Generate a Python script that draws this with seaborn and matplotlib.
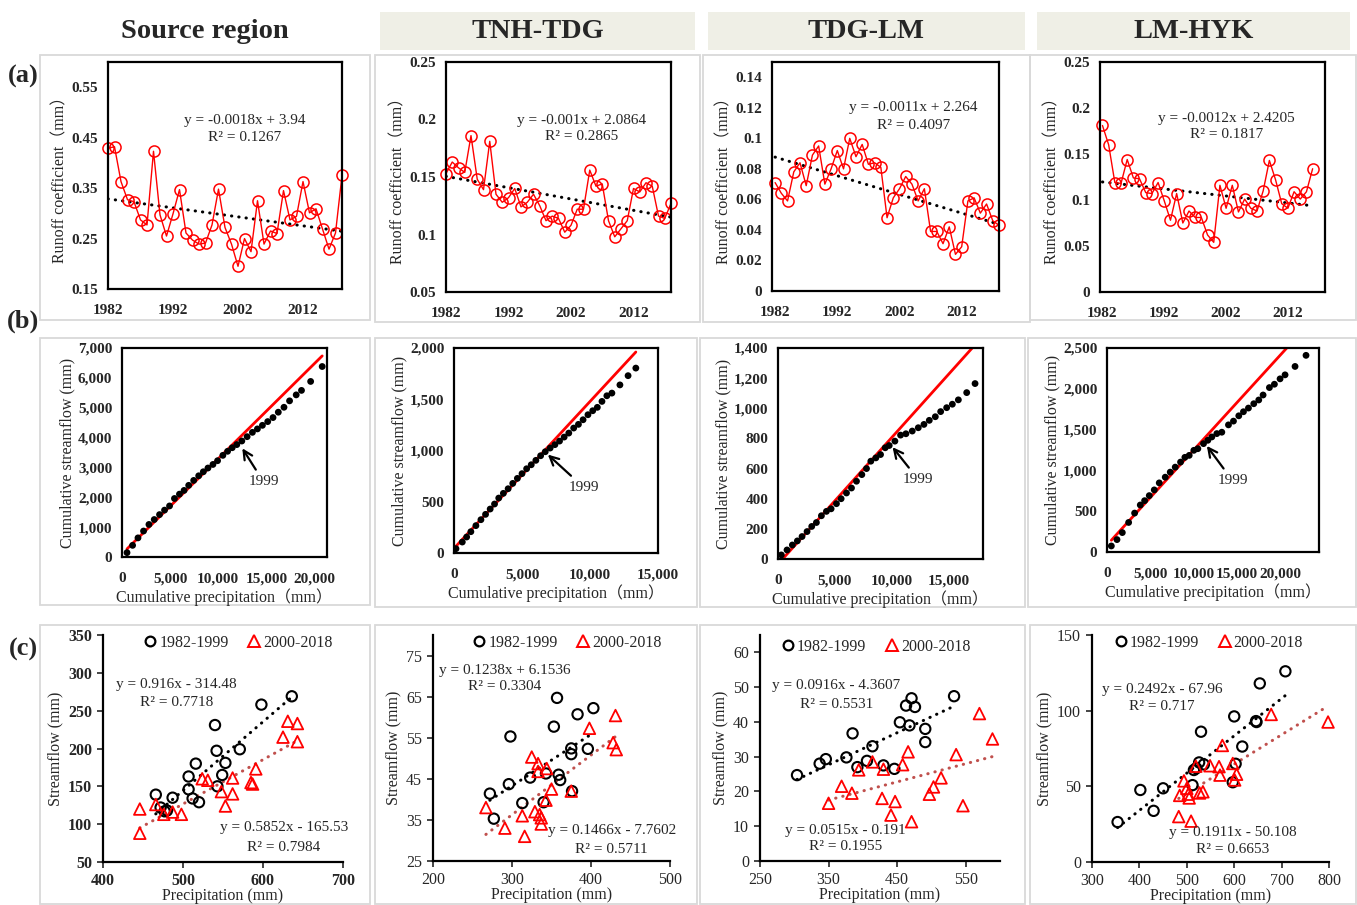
"""
Runoff coefficient, double mass curves and precipitation-streamflow
relations for four reaches of the Yellow River (recreated figure).
"""

import matplotlib
matplotlib.use("Agg")  # headless
import matplotlib.pyplot as plt
from matplotlib.lines import Line2D
from matplotlib.patches import Rectangle
from matplotlib.ticker import FuncFormatter
import numpy as np
import pandas as pd
import seaborn as sns

W, H = 1357, 905

REGIONS = ["Source region", "TNH-TDG", "TDG-LM", "LM-HYK"]
YEARS = list(range(1982, 2019))

# ---- row (a): annual runoff coefficient -------------------------------------
RC_SOURCE = [0.429, 0.432, 0.363, 0.327, 0.323, 0.287, 0.277, 0.423, 0.297, 0.255,
             0.299, 0.347, 0.261, 0.247, 0.239, 0.241, 0.277, 0.348, 0.272, 0.239,
             0.195, 0.250, 0.224, 0.325, 0.239, 0.265, 0.260, 0.345, 0.287, 0.294,
             0.363, 0.301, 0.309, 0.269, 0.229, 0.261, 0.375]
RC_TNH_TDG = [0.153, 0.163, 0.158, 0.154, 0.186, 0.148, 0.139, 0.181, 0.135, 0.128,
              0.132, 0.140, 0.124, 0.128, 0.135, 0.125, 0.112, 0.116, 0.114, 0.102,
              0.108, 0.122, 0.122, 0.156, 0.142, 0.144, 0.112, 0.098, 0.105, 0.112,
              0.140, 0.137, 0.145, 0.142, 0.116, 0.114, 0.127]
RC_TDG_LM = [0.071, 0.064, 0.059, 0.078, 0.084, 0.069, 0.089, 0.095, 0.070, 0.080,
             0.092, 0.080, 0.100, 0.088, 0.096, 0.083, 0.084, 0.081, 0.048, 0.061,
             0.067, 0.075, 0.070, 0.059, 0.067, 0.039, 0.039, 0.031, 0.042, 0.024,
             0.029, 0.059, 0.061, 0.051, 0.057, 0.046, 0.043]
RC_LM_HYK = [0.181, 0.160, 0.119, 0.118, 0.144, 0.124, 0.123, 0.108, 0.107, 0.119,
             0.099, 0.078, 0.107, 0.075, 0.088, 0.081, 0.081, 0.062, 0.054, 0.116,
             0.091, 0.116, 0.087, 0.101, 0.091, 0.088, 0.110, 0.143, 0.122, 0.096,
             0.091, 0.109, 0.101, 0.109, 0.134]
RC_EQ = ["y = -0.0018x + 3.94", "y = -0.001x + 2.0864",
         "y = -0.0011x + 2.264", "y = -0.0012x + 2.4205"]
RC_R2 = ["R² = 0.1267", "R² = 0.2865", "R² = 0.4097", "R² = 0.1817"]

# ---- row (b): double mass curves (cumulative, mm) ---------------------------
CP_SOURCE = [520, 1100, 1660, 2240, 2800, 3350, 3900, 4420, 4940, 5450, 5970, 6450,
             6930, 7450, 7970, 8450, 8930, 9450, 9930, 10480, 10970, 11450, 11930,
             12450, 13000, 13550, 14070, 14590, 15140, 15690, 16240, 16830, 17410,
             18100, 18650, 19600, 20800]
CQ_SOURCE = [146, 390, 640, 870, 1090, 1255, 1420, 1570, 1710, 1960, 2105, 2230,
             2400, 2565, 2720, 2855, 2980, 3100, 3225, 3405, 3540, 3660, 3765, 3885,
             4030, 4175, 4290, 4410, 4535, 4670, 4850, 5015, 5230, 5430, 5580, 5880,
             6380]
CP_TNH_TDG = [146, 610, 930, 1240, 1610, 1980, 2320, 2660, 2980, 3290, 3630, 3980,
              4320, 4660, 5000, 5340, 5680, 6020, 6370, 6710, 7070, 7420, 7760, 8100,
              8440, 8800, 9150, 9490, 9850, 10200, 10540, 10880, 11240, 11610, 12200,
              12800, 13370]
CQ_TNH_TDG = [42, 107, 156, 208, 267, 325, 377, 429, 478, 536, 582, 627, 679, 728,
              774, 822, 861, 904, 949, 988, 1024, 1057, 1092, 1131, 1170, 1219, 1255,
              1300, 1349, 1388, 1421, 1479, 1534, 1560, 1640, 1730, 1804]
CP_TDG_LM = [293, 792, 1261, 1701, 2111, 2551, 2962, 3372, 3812, 4252, 4663, 5132,
             5543, 6012, 6452, 6891, 7361, 7771, 8152, 8592, 9003, 9413, 9765, 10264,
             10762, 11232, 11789, 12317, 12815, 13284, 13812, 14282, 14809, 15308,
             15836, 16569, 17302]
CQ_TDG_LM = [27, 60, 93, 120, 149, 182, 216, 242, 287, 316, 333, 367, 400, 438, 471,
             516, 560, 600, 649, 671, 693, 738, 753, 782, 822, 831, 849, 871, 893, 920,
             944, 978, 1004, 1027, 1056, 1104, 1164]
CP_LM_HYK = [500, 1154, 1769, 2500, 3192, 3846, 4346, 4885, 5462, 6038, 6731, 7308,
             7885, 8500, 9000, 9500, 10038, 10500, 11154, 11654, 12115, 12692, 13269,
             14038, 14615, 15231, 15769, 16346, 16962, 17538, 18038, 18769, 19346,
             20000, 20577, 21731, 23000]
CQ_LM_HYK = [74, 152, 238, 362, 477, 576, 629, 691, 761, 847, 917, 979, 1040, 1102,
             1160, 1184, 1246, 1266, 1328, 1369, 1410, 1451, 1468, 1558, 1604, 1669,
             1719, 1764, 1817, 1863, 1924, 2015, 2056, 2122, 2171, 2274, 2410]
# reference (pre-1999) line: slope, intercept
B_LINE_SLOPE = [0.3188, 0.1433, 0.0841, 0.1162]
B_LINE_INTERCEPT = [104, 45, -34, 86]
BREAK_YEAR = 1999
ARROW_TIP = [(12500, 3640), (6900, 960), (10060, 742), (11540, 1300)]
ARROW_TEXT = [(14700, 2520), (9540, 640), (12320, 527), (14500, 876)]

# ---- row (c): annual precipitation vs streamflow ----------------------------
P_EARLY_SOURCE = [466, 472, 477, 480, 487, 507, 507, 512, 516, 520, 540, 542, 543, 549, 553, 571, 598, 636]
Q_EARLY_SOURCE = [139, 122, 117, 118, 135, 163, 146, 134, 180, 129, 231, 197, 150, 165, 181, 199, 258, 269]
P_LATE_SOURCE = [446, 446, 466, 476, 487, 498, 524, 531, 548, 553, 562, 562, 585, 587, 591, 625, 631, 643, 643]
Q_LATE_SOURCE = [120, 88, 126, 113, 116, 113, 160, 158, 143, 124, 161, 140, 155, 153, 173, 215, 236, 233, 209]

P_EARLY_TNH = [272, 277, 298, 296, 313, 323, 340, 343, 353, 357, 359, 361, 375, 375, 376, 383, 396, 403]
Q_EARLY_TNH = [41.4, 35.3, 55.3, 43.7, 39.1, 45.3, 39.3, 46.3, 57.7, 64.7, 46.0, 44.7, 52.4, 51.0, 42.0, 60.7, 52.3, 62.2]
P_LATE_TNH = [267, 291, 313, 316, 325, 329, 333, 333, 335, 337, 337, 344, 343, 350, 375, 398, 428, 431, 432]
Q_LATE_TNH = [38.0, 33.0, 36.0, 31.0, 50.3, 37.0, 48.7, 46.8, 36.3, 35.5, 34.0, 47.5, 39.8, 42.5, 42.0, 57.3, 53.8, 60.4, 52.1]

P_EARLY_TDG = [304, 337, 346, 376, 385, 392, 406, 414, 430, 446, 454, 463, 468, 471, 476, 491, 491, 533]
Q_EARLY_TDG = [24.7, 28.0, 29.3, 29.8, 36.7, 27.0, 28.8, 33.0, 27.5, 26.5, 39.9, 44.7, 39.0, 46.8, 44.3, 38.0, 34.2, 47.4]
P_LATE_TDG = [350, 369, 384, 394, 414, 428, 430, 441, 447, 458, 466, 471, 497, 503, 514, 536, 546, 570, 589]
Q_LATE_TDG = [16.6, 21.5, 19.5, 26.2, 28.5, 18.0, 26.4, 13.2, 17.1, 27.7, 31.4, 11.3, 19.2, 21.3, 23.9, 30.6, 15.9, 42.4, 35.1]

P_EARLY_LM = [354, 402, 430, 450, 512, 515, 520, 526, 530, 536, 597, 600, 603, 617, 646, 647, 654, 708]
Q_EARLY_LM = [26.4, 47.6, 33.8, 48.7, 50.8, 60.8, 62.0, 65.8, 86.1, 64.5, 52.7, 96.2, 64.9, 76.3, 93.1, 92.5, 118.0, 126.0]
P_LATE_LM = [483, 485, 494, 500, 503, 505, 509, 519, 527, 534, 549, 568, 570, 575, 597, 601, 605, 678, 798]
Q_LATE_LM = [30.0, 44.0, 53.6, 48.7, 44.8, 42.3, 27.0, 63.3, 45.6, 46.4, 63.6, 63.0, 57.4, 77.0, 65.1, 54.2, 58.0, 97.5, 92.5]

SC_EQ_EARLY = ["y = 0.916x - 314.48", "y = 0.1238x + 6.1536", "y = 0.0916x - 4.3607", "y = 0.2492x - 67.96"]
SC_R2_EARLY = ["R² = 0.7718", "R² = 0.3304", "R² = 0.5531", "R² = 0.717"]
SC_EQ_LATE = ["y = 0.5852x - 165.53", "y = 0.1466x - 7.7602", "y = 0.0515x - 0.191", "y = 0.1911x - 50.108"]
SC_R2_LATE = ["R² = 0.7984", "R² = 0.5711", "R² = 0.1955", "R² = 0.6653"]
PERIODS = ["1982-1999", "2000-2018"]

# ---- layout (pixel boxes: left, top, right, bottom) -------------------------
HEADER_BOXES = [(40, 12, 370, 50), (380, 12, 695, 50), (708, 12, 1025, 50), (1037, 12, 1350, 50)]
FRAMES = [
    [(40, 55, 370, 320), (375, 55, 700, 322), (703, 55, 1030, 322), (1030, 55, 1356, 320)],
    [(40, 338, 370, 605), (375, 338, 697, 607), (700, 338, 1025, 607), (1028, 338, 1356, 607)],
    [(40, 625, 370, 904), (375, 625, 697, 904), (700, 625, 1025, 904), (1030, 625, 1356, 904)],
]
AX_A = [(108, 62, 342, 289), (446, 62, 671, 292), (772, 62, 999, 291), (1100, 62, 1325, 292)]
AX_B = [(122, 348, 327, 557), (454, 348, 658, 553), (778, 348, 983, 559), (1107, 348, 1319, 552)]
AX_C = [(103, 635, 343, 862), (433, 635, 670, 861), (760, 635, 1000, 861), (1092, 635, 1329, 862)]

A_XLIM = [(1982, 2018), (1982, 2018), (1981.5, 2018), (1981.6, 2018)]
A_YLIM = [(0.15, 0.6), (0.05, 0.25), (0, 0.15), (0, 0.25)]
A_YTICKS = [[0.15, 0.25, 0.35, 0.45, 0.55], [0.05, 0.1, 0.15, 0.2, 0.25],
            [0, 0.02, 0.04, 0.06, 0.08, 0.1, 0.12, 0.14], [0, 0.05, 0.1, 0.15, 0.2, 0.25]]
A_EQ_POS = [(0.584, 0.741, 0.666), (0.604, 0.746, 0.674), (0.623, 0.803, 0.723), (0.563, 0.756, 0.683)]

B_XLIM = [21300, 15000, 18000, 24500]
B_XTICKS = [[0, 5000, 10000, 15000, 20000], [0, 5000, 10000, 15000],
            [0, 5000, 10000, 15000], [0, 5000, 10000, 15000, 20000]]
B_YLIM = [7000, 2000, 1400, 2500]
B_YSTEP = [1000, 500, 200, 500]

C_XLIM = [(400, 700), (200, 500), (250, 600), (300, 800)]
C_XTICKS = [[400, 500, 600, 700], [200, 300, 400, 500], [250, 350, 450, 550],
            [300, 400, 500, 600, 700, 800]]
C_YLIM = [(50, 350), (25, 80), (0, 65), (0, 150)]
C_YTICKS = [list(range(50, 351, 50)), [25, 35, 45, 55, 65, 75], list(range(0, 61, 10)), [0, 50, 100, 150]]
C_EARLY_POS = [(0.305, 0.784, 0.702), (0.303, 0.845, 0.771), (0.319, 0.776, 0.693), (0.295, 0.761, 0.685)]
C_LATE_POS = [(0.753, 0.150, 0.066), (0.754, 0.134, 0.052), (0.357, 0.137, 0.063), (0.593, 0.132, 0.054)]
C_LEGEND_POS = [(0.56, 0.966), (0.563, 0.966), (0.48, 0.948), (0.49, 0.966)]

LATE_COLOR = "#c0504d"
LABEL_SIZE = 11.5

sns.set_style("white")
plt.rcParams["font.family"] = ["Liberation Serif", "Noto Sans CJK SC"]
plt.rcParams["axes.linewidth"] = 1.6

fig = plt.figure(figsize=(W / 100, H / 100), dpi=100)


def add_axes_px(box):
    l, t, r, b = box
    return fig.add_axes([l / W, 1 - b / H, (r - l) / W, (b - t) / H])


def add_rect_px(box, fc="none", ec="#d9d9d9", lw=1.3):
    l, t, r, b = box
    fig.add_artist(Rectangle((l / W, 1 - b / H), (r - l) / W, (b - t) / H,
                             transform=fig.transFigure, fc=fc, ec=ec, lw=lw, zorder=0))


def fig_text_px(x, y, s, **kw):
    fig.text(x / W, 1 - y / H, s, **kw)


dotted = dict(ls=(0, (0.1, 2.3)), dash_capstyle="round", lw=2.2)

# headers, frames, row labels
for i, (box, name) in enumerate(zip(HEADER_BOXES, REGIONS)):
    add_rect_px(box, fc="white" if i == 0 else "#efefe6", ec="none")
    l, t, r, b = box
    fig_text_px((l + r) / 2, (t + b) / 2 + 1, name, ha="center", va="center",
                fontsize=20.5, fontweight="bold")
for row in FRAMES:
    for box in row:
        add_rect_px(box)
for lab, y in zip(["(a)", "(b)", "(c)"], [76, 321, 649]):
    fig_text_px(23, y, lab, ha="center", va="center", fontsize=19, fontweight="bold")

g = lambda v, _: f"{v:g}"
thousands = lambda v, _: f"{v:,.0f}"

# ---- row (a) ----
rc_all = [RC_SOURCE, RC_TNH_TDG, RC_TDG_LM, RC_LM_HYK]
for i, rc in enumerate(rc_all):
    ax = add_axes_px(AX_A[i])
    df = pd.DataFrame({"year": YEARS[:len(rc)], "rc": rc})
    sns.regplot(data=df, x="year", y="rc", ax=ax, scatter=False, ci=None,
                line_kws=dict(color="black", **dotted))
    sns.lineplot(data=df, x="year", y="rc", ax=ax, color="red", lw=1.0, marker="o",
                 markersize=8, markerfacecolor="none", markeredgecolor="red",
                 markeredgewidth=1.1, clip_on=False)
    ax.set_xlim(A_XLIM[i])
    ax.set_ylim(A_YLIM[i])
    ax.set_xticks([1982, 1992, 2002, 2012])
    ax.set_yticks(A_YTICKS[i])
    ax.yaxis.set_major_formatter(FuncFormatter(g))
    ax.tick_params(labelsize=11, direction="out", length=3, width=1.2, pad=4)
    ax.tick_params(axis="x", pad=8)
    for t in ax.get_xticklabels() + ax.get_yticklabels():
        t.set_fontweight("bold")
    ax.set_xlabel("")
    ax.set_ylabel("Runoff coefficient（mm）", fontsize=LABEL_SIZE, labelpad=2)
    for s in ax.spines.values():
        s.set_color("black")
    ex, ey, ry = A_EQ_POS[i]
    ax.text(ex, ey, RC_EQ[i], transform=ax.transAxes, ha="center", va="center", fontsize=11)
    ax.text(ex, ry, RC_R2[i], transform=ax.transAxes, ha="center", va="center", fontsize=11)

# ---- row (b) ----
cp_all = [CP_SOURCE, CP_TNH_TDG, CP_TDG_LM, CP_LM_HYK]
cq_all = [CQ_SOURCE, CQ_TNH_TDG, CQ_TDG_LM, CQ_LM_HYK]
for i in range(4):
    ax = add_axes_px(AX_B[i])
    cp = np.array(cp_all[i], dtype=float)
    cq = np.array(cq_all[i], dtype=float)
    ends = np.array([cp[0], cp[-1]])
    sns.lineplot(x=ends, y=B_LINE_SLOPE[i] * ends + B_LINE_INTERCEPT[i], ax=ax,
                 color="red", lw=2.0)
    sns.scatterplot(x=cp, y=cq, ax=ax, color="black", s=24, edgecolor="none", zorder=3)
    ax.set_xlim(0, B_XLIM[i])
    ax.set_ylim(0, B_YLIM[i])
    ax.set_xticks(B_XTICKS[i])
    ax.set_yticks(np.arange(0, B_YLIM[i] + 1, B_YSTEP[i]))
    ax.xaxis.set_major_formatter(FuncFormatter(thousands))
    ax.yaxis.set_major_formatter(FuncFormatter(thousands))
    ax.tick_params(labelsize=11, length=0, pad=7)
    ax.tick_params(axis="x", pad=11)
    for t in ax.get_xticklabels() + ax.get_yticklabels():
        t.set_fontweight("bold")
    ax.set_xlabel("Cumulative precipitation（mm）", fontsize=LABEL_SIZE, labelpad=2)
    ax.set_ylabel("Cumulative streamflow (mm)", fontsize=LABEL_SIZE, labelpad=2)
    for s in ax.spines.values():
        s.set_color("black")
    ax.annotate(str(BREAK_YEAR), xy=ARROW_TIP[i], xytext=ARROW_TEXT[i],
                ha="center", va="center", fontsize=11,
                arrowprops=dict(arrowstyle="->", color="black", lw=1.6,
                                mutation_scale=16, shrinkA=2, shrinkB=0))

# ---- row (c) ----
early = [(P_EARLY_SOURCE, Q_EARLY_SOURCE), (P_EARLY_TNH, Q_EARLY_TNH),
         (P_EARLY_TDG, Q_EARLY_TDG), (P_EARLY_LM, Q_EARLY_LM)]
late = [(P_LATE_SOURCE, Q_LATE_SOURCE), (P_LATE_TNH, Q_LATE_TNH),
        (P_LATE_TDG, Q_LATE_TDG), (P_LATE_LM, Q_LATE_LM)]
handles = [
    Line2D([], [], ls="", marker="o", ms=7, mfc="none", mec="black", mew=1.6),
    Line2D([], [], ls="", marker="^", ms=8, mfc="none", mec="red", mew=1.4),
]
for i in range(4):
    ax = add_axes_px(AX_C[i])
    pe, qe = early[i]
    pl, ql = late[i]
    sns.regplot(x=pe, y=qe, ax=ax, scatter=False, ci=None,
                line_kws=dict(color="black", **dotted))
    sns.regplot(x=pl, y=ql, ax=ax, scatter=False, ci=None,
                line_kws=dict(color=LATE_COLOR, **dotted))
    sns.scatterplot(x=pe, y=qe, ax=ax, marker="o", s=55, fc="none", ec="black",
                    linewidth=1.5, zorder=3, clip_on=False)
    sns.scatterplot(x=pl, y=ql, ax=ax, marker="^", s=70, fc="none", ec="red",
                    linewidth=1.3, zorder=3, clip_on=False)
    ax.set_xlim(C_XLIM[i])
    ax.set_ylim(C_YLIM[i])
    ax.set_xticks(C_XTICKS[i])
    ax.set_yticks(C_YTICKS[i])
    sns.despine(ax=ax)
    for s in ["left", "bottom"]:
        ax.spines[s].set_color("black")
    ax.tick_params(labelsize=11.5, direction="out", length=4, width=1.2, pad=4,
                   bottom=True, left=True)
    if i == 0:
        for t in ax.get_xticklabels() + ax.get_yticklabels():
            t.set_fontweight("bold")
    ax.set_xlabel("Precipitation (mm)", fontsize=LABEL_SIZE, labelpad=-1)
    ax.set_ylabel("Streamflow (mm)", fontsize=LABEL_SIZE, labelpad=3)
    x1, y1, r1 = C_EARLY_POS[i]
    x2, y2, r2 = C_LATE_POS[i]
    ax.text(x1, y1, SC_EQ_EARLY[i], transform=ax.transAxes, ha="center", va="center", fontsize=11)
    ax.text(x1, r1, SC_R2_EARLY[i], transform=ax.transAxes, ha="center", va="center", fontsize=11)
    ax.text(x2, y2, SC_EQ_LATE[i], transform=ax.transAxes, ha="center", va="center", fontsize=11)
    ax.text(x2, r2, SC_R2_LATE[i], transform=ax.transAxes, ha="center", va="center", fontsize=11)
    lx, ly = C_LEGEND_POS[i]
    ax.legend(handles=handles, labels=PERIODS, loc="center", bbox_to_anchor=(lx, ly),
              ncol=2, frameon=False, fontsize=11.5, handletextpad=0.05,
              columnspacing=1.1, handlelength=1.0, borderaxespad=0, borderpad=0)

fig.savefig("out.png", dpi=100)
plt.close(fig)
